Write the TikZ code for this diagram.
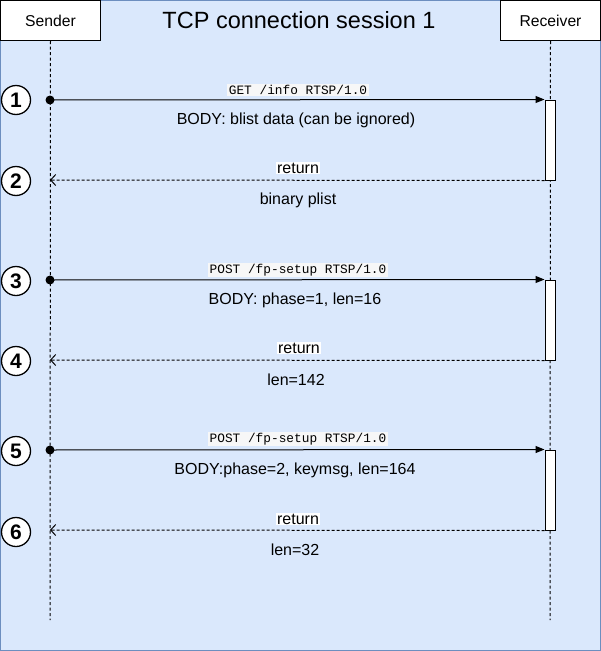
\documentclass[tikz,border=0pt]{standalone}
\usepackage{fontspec}
\setmainfont{Liberation Sans}
\setmonofont{Liberation Mono}
\usepackage{tikz}
\usetikzlibrary{arrows.meta}
\usetikzlibrary{shapes.geometric, arrows,positioning,calc}
\definecolor{bgblue}{HTML}{DAE8FC}
\definecolor{bgedge}{HTML}{6C8EBF}
\definecolor{codegray}{HTML}{F7F7F7}
\tikzset{
	actor/.style={draw, fill=white, line width=1pt, minimum width=100pt, minimum height=40pt, inner sep=0pt, font=\fontsize{15.7}{18}\selectfont},
	lifeline/.style={line width=1pt, dash pattern=on 3pt off 2.5pt},
	actbox/.style={draw, fill=white, line width=1pt, minimum width=10pt, minimum height=80pt, inner sep=0pt},
	call/.style={line width=1pt, -{Triangle[length=9pt,width=7pt]}},
	ret/.style={line width=1pt, dash pattern=on 3pt off 2pt, -{Straight Barb[length=5pt,width=11pt]}},
	txt/.style={font=\fontsize{16}{18}\selectfont, inner sep=1pt},
	code/.style={font=\fontsize{12.8}{15}\ttfamily, fill=codegray, inner sep=1.5pt},
	retlbl/.style={txt, fill=white},
	num/.style={circle, draw, line width=1.3pt, fill=white, minimum size=29pt, inner sep=0pt, font=\fontsize{21}{21}\selectfont\bfseries}
}
\begin{document}
\begin{tikzpicture}[x=1pt,y=-1pt]
	\useasboundingbox (0,0) rectangle (601,651);
	\draw [fill=bgblue, draw=bgedge, line width=1pt] (0.5,0.5) rectangle (600.5,650.5);
	\node [font=\fontsize{23.5}{26}\selectfont] (title) at (299,20) {TCP connection session 1};
	% actors and lifelines
	\node [actor] (sender) at (50.5,20.5) {Sender};
	\node [actor] (receiver) at (550.5,20.5) {Receiver};
	\coordinate (sEnd) at (50,620);
	\coordinate (rEnd) at (550,620);
	\draw [lifeline] (sender.south) -- (sEnd);
	\draw [lifeline] (receiver.south) -- (rEnd);
	% activations
	\node [actbox] (act1) at (550,140) {};
	\node [actbox] (act2) at (550,320) {};
	\node [actbox] (act3) at (550,490) {};
	\coordinate (s1) at (50,100);
	\coordinate (s2) at (50,180);
	\coordinate (s3) at (50,280);
	\coordinate (s4) at (50,360);
	\coordinate (s5) at (50,450);
	\coordinate (s6) at (50,530);
	% GET /info
	\fill (s1) circle[radius=4.5pt];
	\draw [call] (s1) -- (act1.north west);
	\node [code] (get) at (298,90) {GET /info RTSP/1.0};
	\node [txt] (body1) at (296,120) {BODY: blist data (can be ignored)};
	\draw [ret] (act1.south west) -- (s2);
	\node [retlbl] (ret1) at (298,168) {return};
	\node [txt] (plist) at (298,200) {binary plist};
	% fp-setup phase 1
	\fill (s3) circle[radius=4.5pt];
	\draw [call] (s3) -- (act2.north west);
	\node [code] (post1) at (298,270) {POST /fp-setup RTSP/1.0};
	\node [txt] (body2) at (295,300) {BODY: phase=1, len=16};
	\draw [ret] (act2.south west) -- (s4);
	\node [retlbl] (ret2) at (299,348) {return};
	\node [txt] (len1) at (296,380) {len=142};
	% fp-setup phase 2
	\fill (s5) circle[radius=4.5pt];
	\draw [call] (s5) -- (act3.north west);
	\node [code] (post2) at (298,439) {POST /fp-setup RTSP/1.0};
	\node [txt] (body3) at (295,470) {BODY:phase=2, keymsg, len=164};
	\draw [ret] (act3.south west) -- (s6);
	\node [retlbl] (ret3) at (298,519) {return};
	\node [txt] (len2) at (295,550) {len=32};
	% step numbers
	\node [num] (n1) at (16,100) {1};
	\node [num] (n2) at (16,181) {2};
	\node [num] (n3) at (16,281) {3};
	\node [num] (n4) at (16,361) {4};
	\node [num] (n5) at (16,451) {5};
	\node [num] (n6) at (16,532) {6};
\end{tikzpicture}
\end{document}
